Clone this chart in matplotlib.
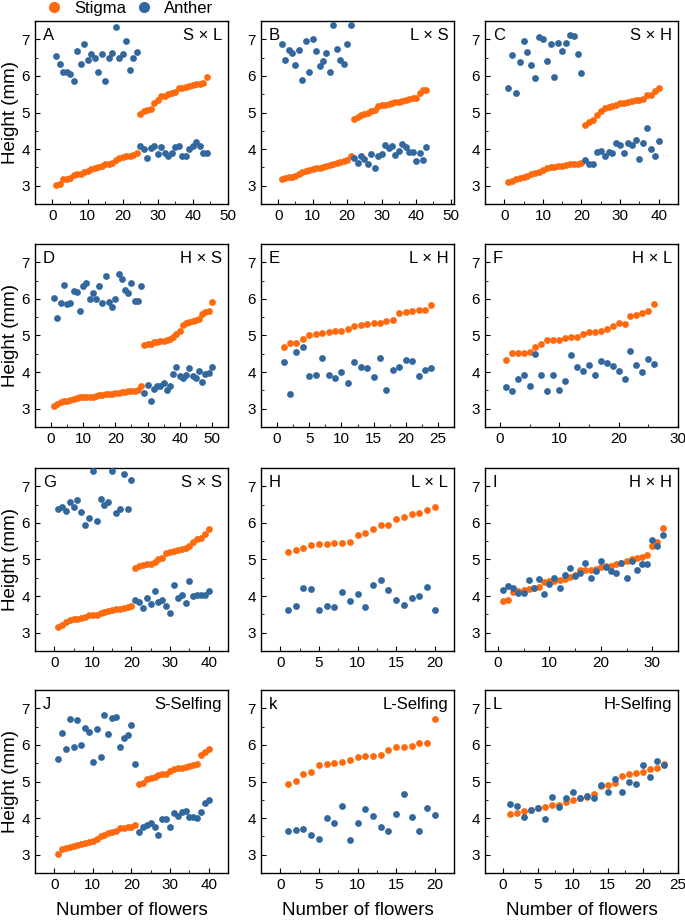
import matplotlib
matplotlib.use('Agg')
import matplotlib.pyplot as plt
import numpy as np
from matplotlib.ticker import MultipleLocator, AutoMinorLocator
from matplotlib.lines import Line2D

plt.rcParams['font.family'] = ['Liberation Sans', 'DejaVu Sans']

# stigma / anther heights (mm), flower index runs 1..N
stigma_A = [3.03, 3.04, 3.17, 3.18, 3.22, 3.28, 3.32, 3.33, 3.38, 3.40, 3.45, 3.48, 3.52, 3.55, 3.58, 3.60, 3.63, 3.70, 3.75, 3.78, 3.80, 3.82, 3.84, 3.88,
            4.97, 5.05, 5.08, 5.10, 5.27, 5.35, 5.44, 5.45, 5.50, 5.52, 5.55, 5.67, 5.68, 5.70, 5.73, 5.76, 5.78, 5.79, 5.80, 5.97]
anther_A = [6.55, 6.32, 6.12, 6.10, 6.05, 5.87, 6.68, 6.32, 6.86, 6.44, 6.59, 6.50, 6.11, 6.59, 5.85, 6.49, 6.62, 7.33, 6.50, 6.59, 6.94, 6.17, 6.49, 6.66,
            4.09, 4.00, 3.75, 4.04, 4.09, 3.86, 4.07, 3.90, 3.82, 3.88, 4.07, 4.09, 3.80, 3.82, 4.00, 4.09, 4.20, 4.09, 3.88, 3.88]

stigma_B = [3.18, 3.20, 3.23, 3.25, 3.27, 3.33, 3.38, 3.40, 3.43, 3.45, 3.47, 3.48, 3.50, 3.53, 3.57, 3.60, 3.63, 3.65, 3.67, 3.70, 3.80,
            4.83, 4.87, 4.92, 4.95, 5.00, 5.03, 5.08, 5.18, 5.20, 5.21, 5.23, 5.25, 5.28, 5.30, 5.32, 5.35, 5.38, 5.40, 5.40, 5.52, 5.62, 5.62]
anther_B = [6.86, 6.43, 6.70, 6.62, 6.30, 6.70, 5.89, 6.94, 6.11, 7.00, 6.68, 6.28, 6.41, 6.62, 6.11, 7.38, 6.73, 6.44, 6.32, 6.88, 7.39,
            3.77, 3.62, 3.81, 3.72, 3.60, 3.86, 3.48, 3.80, 3.86, 4.11, 4.04, 4.08, 3.84, 3.95, 4.14, 4.05, 3.91, 3.93, 3.68, 3.88, 3.69, 4.05]

stigma_C = [3.10, 3.13, 3.17, 3.20, 3.23, 3.27, 3.32, 3.35, 3.38, 3.43, 3.47, 3.50, 3.52, 3.53, 3.55, 3.57, 3.58, 3.60, 3.60, 3.62,
            4.65, 4.75, 4.80, 4.93, 5.05, 5.12, 5.15, 5.18, 5.20, 5.25, 5.27, 5.30, 5.32, 5.33, 5.35, 5.38, 5.47, 5.48, 5.60, 5.68]
anther_C = [5.67, 6.58, 5.53, 6.39, 6.95, 6.66, 6.30, 5.93, 7.06, 7.00, 6.41, 6.88, 5.98, 6.89, 6.67, 6.91, 7.11, 7.09, 6.59, 6.07,
            3.70, 3.60, 3.60, 3.91, 3.95, 3.80, 3.91, 3.88, 4.16, 4.11, 3.90, 4.18, 4.11, 4.24, 3.73, 4.18, 4.58, 4.00, 3.81, 4.22]

stigma_D = [3.08, 3.12, 3.17, 3.20, 3.22, 3.24, 3.27, 3.30, 3.31, 3.31, 3.32, 3.33, 3.33, 3.35, 3.37, 3.38, 3.40, 3.40, 3.41, 3.42,
            3.44, 3.45, 3.46, 3.47, 3.48, 3.48, 3.50, 3.63,
            4.73, 4.76, 4.78, 4.82, 4.83, 4.85, 4.86, 4.87, 4.90, 4.97, 5.05, 5.13, 5.28, 5.33, 5.37, 5.40, 5.43, 5.46, 5.60, 5.63, 5.66, 5.92]
anther_D = [6.02, 5.48, 5.89, 6.38, 5.87, 5.90, 6.21, 6.20, 5.67, 6.35, 6.44, 5.99, 6.17, 5.99, 6.35, 5.90, 6.62, 5.91, 5.78, 5.99,
            6.67, 6.53, 6.25, 6.17, 6.44, 5.93, 5.93, 6.35,
            3.44, 3.65, 3.20, 3.54, 3.61, 3.63, 3.71, 3.52, 3.63, 3.94, 4.13, 3.88, 3.85, 3.92, 4.10, 3.90, 3.85, 4.04, 3.74, 3.94, 3.97, 4.15]

stigma_E = [4.69, 4.80, 4.80, 4.90, 5.00, 5.03, 5.08, 5.10, 5.13, 5.13, 5.18, 5.26, 5.28, 5.30, 5.33, 5.33, 5.39, 5.43, 5.61, 5.65, 5.68, 5.69, 5.70, 5.82]
anther_E = [4.27, 3.40, 4.55, 4.69, 3.90, 3.92, 4.38, 3.92, 3.83, 4.00, 3.71, 4.28, 4.15, 4.12, 3.86, 4.39, 3.50, 4.06, 4.15, 4.33, 4.30, 3.90, 4.06, 4.10]

stigma_F = [4.34, 4.51, 4.53, 4.53, 4.55, 4.69, 4.76, 4.88, 4.87, 4.89, 4.94, 4.96, 4.96, 5.03, 5.10, 5.10, 5.13, 5.18, 5.25, 5.33, 5.32, 5.53, 5.57, 5.61, 5.66, 5.87]
anther_F = [3.59, 3.47, 3.81, 3.92, 3.61, 4.50, 3.91, 3.47, 3.91, 3.52, 3.76, 4.47, 4.15, 4.03, 4.20, 3.91, 4.30, 4.26, 4.17, 4.04, 3.81, 4.57, 4.18, 3.99, 4.36, 4.22]

stigma_G = [3.15, 3.20, 3.30, 3.35, 3.37, 3.38, 3.40, 3.42, 3.47, 3.48, 3.48, 3.53, 3.57, 3.60, 3.62, 3.64, 3.65, 3.67, 3.70, 3.73,
            4.78, 4.82, 4.85, 4.87, 4.88, 4.92, 5.00, 5.05, 5.17, 5.20, 5.23, 5.25, 5.28, 5.30, 5.38, 5.48, 5.55, 5.60, 5.70, 5.83]
anther_G = [6.37, 6.43, 6.32, 6.57, 6.43, 6.62, 6.30, 5.94, 6.14, 7.43, 6.05, 6.64, 6.48, 6.57, 7.43, 6.26, 6.39, 7.34, 6.37, 7.18,
            3.88, 3.85, 3.67, 3.94, 3.77, 4.15, 3.83, 3.88, 3.72, 3.53, 4.31, 3.95, 4.03, 3.81, 4.40, 3.99, 4.04, 4.04, 4.04, 4.15]

stigma_H = [5.21, 5.26, 5.31, 5.39, 5.43, 5.43, 5.46, 5.46, 5.49, 5.68, 5.71, 5.84, 5.93, 5.93, 6.10, 6.17, 6.25, 6.28, 6.35, 6.44]
anther_H = [3.62, 3.74, 4.21, 4.18, 3.63, 3.72, 3.70, 4.10, 3.86, 4.06, 3.70, 4.30, 4.44, 4.17, 3.90, 3.76, 3.94, 4.01, 4.24, 3.63]

stigma_I = [3.86, 3.90, 4.12, 4.13, 4.17, 4.20, 4.22, 4.25, 4.38, 4.40, 4.42, 4.45, 4.47, 4.52, 4.58, 4.70, 4.70, 4.72, 4.74, 4.80,
            4.82, 4.83, 4.87, 4.90, 4.97, 5.00, 5.05, 5.08, 5.12, 5.37, 5.47, 5.87]
anther_I = [4.17, 4.27, 4.22, 4.08, 4.08, 4.44, 4.22, 4.47, 4.06, 4.33, 4.49, 4.21, 4.58, 4.78, 4.56, 4.62, 4.89, 4.50, 4.68, 4.96,
            4.80, 4.69, 4.63, 4.90, 4.49, 4.96, 4.71, 4.87, 4.87, 5.54, 5.36, 5.67]

stigma_J = [3.03, 3.15, 3.18, 3.20, 3.23, 3.27, 3.30, 3.32, 3.35, 3.38, 3.43, 3.50, 3.55, 3.58, 3.62, 3.65, 3.72, 3.73, 3.75, 3.77, 3.80,
            4.93, 4.97, 5.07, 5.10, 5.12, 5.18, 5.20, 5.20, 5.30, 5.33, 5.37, 5.38, 5.40, 5.42, 5.45, 5.48, 5.73, 5.80, 5.88]
anther_J = [5.62, 6.32, 5.90, 6.71, 5.94, 6.69, 5.99, 6.46, 6.35, 5.53, 6.44, 5.67, 6.82, 6.30, 6.73, 6.77, 5.94, 6.19, 6.26, 6.55, 5.49,
            3.61, 3.77, 3.81, 3.86, 3.77, 3.54, 3.98, 3.97, 3.77, 4.13, 4.06, 4.18, 4.19, 4.02, 4.02, 4.00, 4.16, 4.42, 4.49]

stigma_K = [4.93, 5.01, 5.21, 5.26, 5.44, 5.48, 5.50, 5.54, 5.60, 5.66, 5.70, 5.70, 5.73, 5.87, 5.93, 5.94, 5.98, 6.06, 6.06, 6.71]
anther_K = [3.65, 3.68, 3.71, 3.54, 3.42, 3.99, 3.88, 4.33, 3.41, 3.86, 4.25, 4.07, 3.75, 3.66, 4.11, 4.66, 4.03, 3.66, 4.27, 4.09]

stigma_L = [4.12, 4.15, 4.20, 4.23, 4.27, 4.31, 4.35, 4.36, 4.43, 4.50, 4.54, 4.58, 4.65, 4.87, 4.90, 4.97, 5.15, 5.21, 5.24, 5.26, 5.35, 5.38, 5.49]
anther_L = [4.38, 4.34, 4.02, 4.22, 4.29, 3.98, 4.58, 4.30, 4.54, 4.72, 4.54, 4.61, 4.54, 4.90, 4.72, 5.06, 4.72, 4.99, 4.92, 5.44, 5.13, 5.55, 5.46]

letters = ['A', 'B', 'C', 'D', 'E', 'F', 'G', 'H', 'I', 'J', 'k', 'L']
crosses = ['S × L', 'L × S', 'S × H', 'H × S', 'L × H', 'H × L',
           'S × S', 'L × L', 'H × H', 'S-Selfing', 'L-Selfing', 'H-Selfing']
stigmas = [stigma_A, stigma_B, stigma_C, stigma_D, stigma_E, stigma_F,
           stigma_G, stigma_H, stigma_I, stigma_J, stigma_K, stigma_L]
anthers = [anther_A, anther_B, anther_C, anther_D, anther_E, anther_F,
           anther_G, anther_H, anther_I, anther_J, anther_K, anther_L]

xlims = [(-5, 50), (-5, 51), (-5, 45), (-5, 55), (-2.5, 27.5), (-2.5, 30),
         (-5, 45), (-2.5, 22.5), (-2.5, 35), (-5, 45), (-2.5, 22.5), (-2.5, 25)]
xsteps = [10, 10, 10, 10, 5, 10, 10, 5, 10, 10, 5, 5]

orange = '#ff6a0e'
blue = '#33689f'

fig = plt.figure(figsize=(6.85, 9.21), dpi=100)

lefts = [0.051, 0.381, 0.708]
bottoms = [0.7785, 0.5364, 0.2932, 0.0521]
w, h = 0.2818, 0.1987

for i in range(12):
    r, c = divmod(i, 3)
    ax = fig.add_axes([lefts[c], bottoms[r], w, h])
    x = np.arange(1, len(stigmas[i]) + 1)
    ax.scatter(x, stigmas[i], s=24, color=orange, linewidths=0, zorder=2)
    ax.scatter(np.arange(1, len(anthers[i]) + 1), anthers[i], s=24, color=blue, linewidths=0, zorder=3)
    ax.set_xlim(*xlims[i])
    ax.set_ylim(2.5, 7.5)
    ax.xaxis.set_major_locator(MultipleLocator(xsteps[i]))
    ax.xaxis.set_minor_locator(AutoMinorLocator(2))
    ax.yaxis.set_major_locator(MultipleLocator(1))
    ax.yaxis.set_minor_locator(AutoMinorLocator(2))
    ax.tick_params(which='both', direction='in', labelsize=11)
    ax.tick_params(which='major', length=3.5)
    ax.tick_params(which='minor', length=2)
    for sp in ax.spines.values():
        sp.set_linewidth(1.0)
    ax.text(0.04, 0.96, letters[i], transform=ax.transAxes, ha='left', va='top', fontsize=12)
    ax.text(0.97, 0.96, crosses[i], transform=ax.transAxes, ha='right', va='top', fontsize=12)
    if c == 0:
        ax.set_ylabel('Height (mm)', fontsize=13.5, labelpad=2)
    if r == 3:
        ax.set_xlabel('Number of flowers', fontsize=13.5, labelpad=7)

handles = [Line2D([], [], marker='o', ls='', color=orange, markersize=7),
           Line2D([], [], marker='o', ls='', color=blue, markersize=7)]
fig.legend(handles, ['Stigma', 'Anther'], loc='upper left', bbox_to_anchor=(0.0448, 1.015),
           ncol=2, frameon=False, fontsize=12, handlelength=1.0, handletextpad=0.7,
           columnspacing=0.6)

fig.savefig('out.png', dpi=100)
